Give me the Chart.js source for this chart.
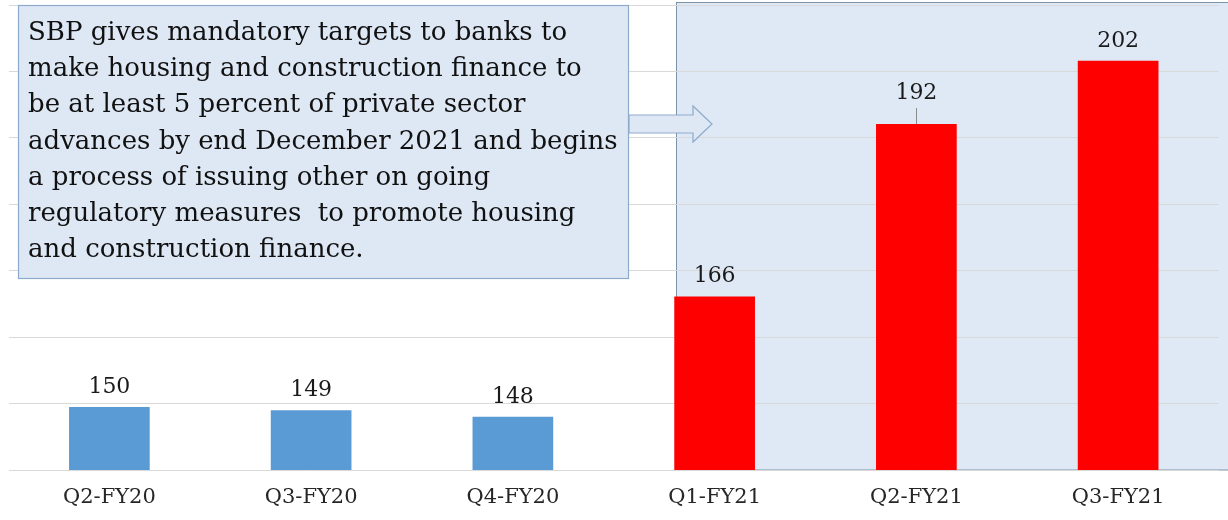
<!DOCTYPE html>
<html>
<head>
<meta charset="utf-8">
<script src="https://cdn.jsdelivr.net/npm/chart.js@4"></script>
<style>
  html, body { margin: 0; padding: 0; background: #fff; }
  canvas { display: block; }
</style>
</head>
<body>
<canvas id="vis" width="1228" height="520"></canvas>
<script>
const categories = ['Q2-FY20', 'Q3-FY20', 'Q4-FY20', 'Q1-FY21', 'Q2-FY21', 'Q3-FY21'];
const values = [149.5, 149.0, 148.0, 166.1, 192.1, 201.6];
const barColors = ['#5b9bd5', '#5b9bd5', '#5b9bd5', '#ff0000', '#ff0000', '#ff0000'];
const yMin = 140, yMax = 210, yStep = 10;
const noteLines = [
  'SBP gives mandatory targets to banks to',
  'make housing and construction finance to',
  'be at least 5 percent of private sector',
  'advances by end December 2021 and begins',
  'a process of issuing other on going',
  'regulatory measures  to promote housing',
  'and construction finance.'
];

const serif = '"DejaVu Serif", "Liberation Serif", serif';

const notes = {
  id: 'notes',
  beforeDraw(chart) {
    const ctx = chart.ctx;
    const area = chart.chartArea;
    ctx.save();
    ctx.fillStyle = '#fff';
    ctx.fillRect(0, 0, chart.width, chart.height);
    // shaded period from Q1-FY21 onwards
    const bar = chart.getDatasetMeta(0).data[3];
    const left = Math.round(bar.x - bar.width / 2) + 2.5;
    ctx.fillStyle = '#dfe9f5';
    ctx.strokeStyle = '#7d93a6';
    ctx.lineWidth = 1;
    ctx.fillRect(left, 2.5, chart.width - left + 2, area.bottom - 2.5);
    ctx.strokeRect(left, 2.5, chart.width - left + 2, area.bottom - 2.5);
    ctx.restore();
  },
  afterDatasetsDraw(chart) {
    const ctx = chart.ctx;
    const meta = chart.getDatasetMeta(0);
    ctx.save();
    // value labels (the Q2-FY21 one sits higher, with a leader line)
    ctx.font = '22px ' + serif;
    ctx.fillStyle = '#1a1a1a';
    ctx.textAlign = 'center';
    ctx.textBaseline = 'middle';
    meta.data.forEach((el, i) => {
      const lift = i === 4 ? 31 : 20;
      ctx.fillText(Math.round(values[i]).toString(), el.x, el.y - lift);
      if (i === 4) {
        ctx.strokeStyle = '#8c8c8c';
        ctx.lineWidth = 1;
        ctx.beginPath();
        ctx.moveTo(Math.round(el.x) + 0.5, el.y - lift + 15);
        ctx.lineTo(Math.round(el.x) + 0.5, el.y);
        ctx.stroke();
      }
    });

    // text box
    ctx.fillStyle = '#dee8f5';
    ctx.strokeStyle = '#8eaacb';
    ctx.lineWidth = 1.2;
    ctx.fillRect(18.5, 5.5, 610, 273);
    ctx.strokeRect(18.5, 5.5, 610, 273);

    // arrow
    ctx.beginPath();
    ctx.moveTo(629, 115);
    ctx.lineTo(693, 115);
    ctx.lineTo(693, 106);
    ctx.lineTo(712, 124);
    ctx.lineTo(693, 142);
    ctx.lineTo(693, 133);
    ctx.lineTo(629, 133);
    ctx.closePath();
    ctx.fillStyle = '#dee8f5';
    ctx.fill();
    ctx.strokeStyle = '#8eaacb';
    ctx.stroke();

    ctx.fillStyle = '#111';
    ctx.font = '26px ' + serif;
    ctx.textAlign = 'left';
    ctx.textBaseline = 'alphabetic';
    noteLines.forEach((line, i) => {
      ctx.fillText(line, 28, 40 + i * 36.2);
    });
    ctx.restore();
  }
};

new Chart(document.getElementById('vis'), {
  type: 'bar',
  data: {
    labels: categories,
    datasets: [{
      data: values,
      backgroundColor: barColors,
      borderWidth: 0,
      barPercentage: 0.4,
      categoryPercentage: 1
    }]
  },
  options: {
    responsive: false,
    animation: false,
    layout: { padding: { left: 8.5, right: 9, top: 5, bottom: 0 } },
    plugins: { legend: { display: false }, tooltip: { enabled: false } },
    scales: {
      x: {
        grid: { display: false, drawTicks: false },
        border: { display: false },
        ticks: { font: { family: serif, size: 21 }, color: '#262626', padding: 15 },
        afterFit(scale) { scale.height = 50; }
      },
      y: {
        min: yMin,
        max: yMax,
        grid: { color: '#d9d9d9', lineWidth: 1, drawTicks: false },
        border: { display: false },
        ticks: { display: false, stepSize: yStep }
      }
    }
  },
  plugins: [notes]
});
</script>
</body>
</html>
